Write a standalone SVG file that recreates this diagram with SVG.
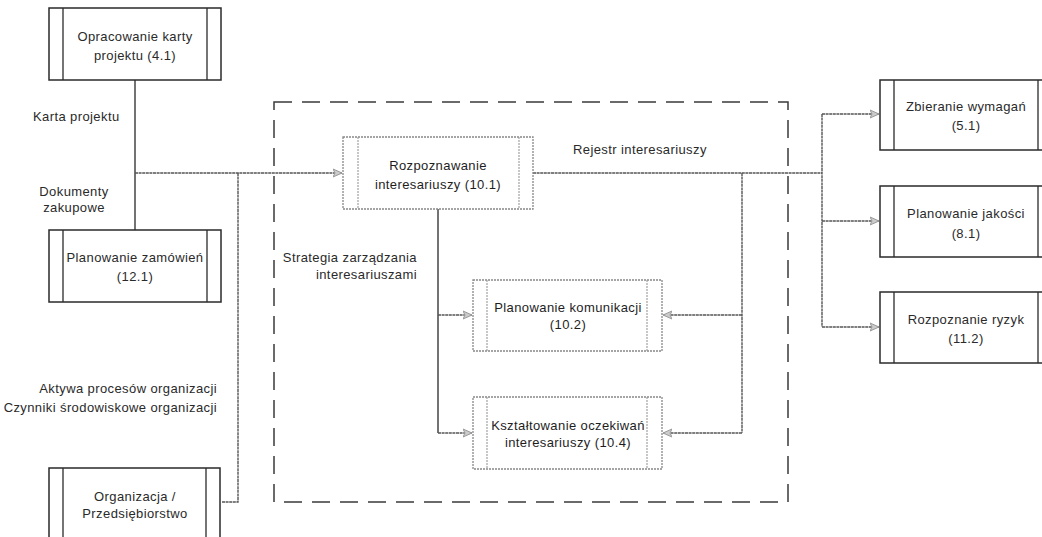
<svg xmlns="http://www.w3.org/2000/svg" width="1042" height="537" viewBox="0 0 1042 537">
<defs>
<style>
text{font-family:"Liberation Sans",Arial,sans-serif;font-size:13px;fill:#2a2a2a;letter-spacing:0.4px}
.c{text-anchor:middle}
.e{text-anchor:end}
.b{fill:#1e1e1e}
.solid{fill:#fff;stroke:#2a2a2a;stroke-width:1.5}
.inner{stroke:#2a2a2a;stroke-width:1.3}
.dot{fill:#fff;stroke:#888;stroke-width:1.3;stroke-dasharray:2 1}
.dinner{stroke:#999;stroke-width:1.1;stroke-dasharray:2 1}
.con{fill:none;stroke:#555;stroke-width:1.4;stroke-dasharray:3 0.6}
.conS{fill:none;stroke:#444;stroke-width:1.5}
.frame{fill:none;stroke:#3a3a3a;stroke-width:1.5;stroke-dasharray:18 10}
</style>
<marker id="arr" viewBox="0 0 10 10" refX="9" refY="5" markerWidth="10" markerHeight="10" markerUnits="userSpaceOnUse" orient="auto">
<path d="M0,1 L9,5 L0,9 L2,5 Z" fill="#ccc" stroke="#999" stroke-width="1"/>
</marker>
</defs>
<rect width="1042" height="537" fill="#fff"/>

<g id="frame">
<rect class="frame" x="274" y="102" width="514" height="400"/>
</g>

<g id="connectors">
<line class="conS" x1="135" y1="80" x2="135" y2="230"/>
<line class="con" x1="135" y1="173" x2="342" y2="173" marker-end="url(#arr)"/>
<polyline class="con" points="222,502 238,502 238,173"/>
<line class="con" x1="533" y1="173" x2="822" y2="173"/>
<polyline class="con" points="822,114 822,327"/>
<line class="con" x1="822" y1="114" x2="879" y2="114" marker-end="url(#arr)"/>
<line class="con" x1="822" y1="221" x2="879" y2="221" marker-end="url(#arr)"/>
<line class="con" x1="822" y1="327" x2="879" y2="327" marker-end="url(#arr)"/>
<polyline class="conS" points="438,209 438,433"/>
<line class="con" x1="438" y1="315" x2="472" y2="315" marker-end="url(#arr)"/>
<line class="con" x1="438" y1="433" x2="472" y2="433" marker-end="url(#arr)"/>
<polyline class="con" points="742,173 742,433"/>
<line class="con" x1="742" y1="315" x2="663" y2="315" marker-end="url(#arr)"/>
<line class="con" x1="742" y1="433" x2="663" y2="433" marker-end="url(#arr)"/>
</g>

<g id="labels">
<text x="33" y="121">Karta projektu</text>
<text class="c" x="74" y="196">Dokumenty</text>
<text class="c" x="74" y="212">zakupowe</text>
<text class="e" x="217" y="393">Aktywa procesów organizacji</text>
<text class="e" x="217" y="412">Czynniki środowiskowe organizacji</text>
<text x="573" y="154">Rejestr interesariuszy</text>
<text class="e" x="417" y="262">Strategia zarządzania</text>
<text class="e" x="417" y="279">interesariuszami</text>
</g>

<g id="node-opracowanie">
<rect class="solid" x="49" y="8" width="172" height="72"/>
<line class="inner" x1="63" y1="8" x2="63" y2="80"/>
<line class="inner" x1="207" y1="8" x2="207" y2="80"/>
<text class="c" x="135" y="41">Opracowanie karty</text>
<text class="c" x="135" y="60">projektu (4.1)</text>
</g>

<g id="node-zamowienia">
<rect class="solid" x="49" y="230" width="172" height="72"/>
<line class="inner" x1="63" y1="230" x2="63" y2="302"/>
<line class="inner" x1="207" y1="230" x2="207" y2="302"/>
<text class="c" x="135" y="262">Planowanie zamówień</text>
<text class="c" x="135" y="281">(12.1)</text>
</g>

<g id="node-organizacja">
<rect class="solid" x="49" y="468" width="171" height="80"/>
<line class="inner" x1="63" y1="468" x2="63" y2="548"/>
<line class="inner" x1="206" y1="468" x2="206" y2="548"/>
<text class="c" x="135" y="501">Organizacja /</text>
<text class="c" x="135" y="518">Przedsiębiorstwo</text>
</g>

<g id="node-rozpoznawanie">
<rect class="dot" x="343" y="137" width="190" height="72"/>
<line class="dinner" x1="358" y1="137" x2="358" y2="209"/>
<line class="dinner" x1="519" y1="137" x2="519" y2="209"/>
<text class="c b" x="438" y="170">Rozpoznawanie</text>
<text class="c b" x="438" y="189">interesariuszy (10.1)</text>
</g>

<g id="node-komunikacja">
<rect class="dot" x="473" y="280" width="189" height="71"/>
<line class="dinner" x1="487" y1="280" x2="487" y2="351"/>
<line class="dinner" x1="647" y1="280" x2="647" y2="351"/>
<text class="c b" x="568" y="312">Planowanie komunikacji</text>
<text class="c b" x="568" y="329">(10.2)</text>
</g>

<g id="node-ksztaltowanie">
<rect class="dot" x="473" y="397" width="189" height="72"/>
<line class="dinner" x1="487" y1="397" x2="487" y2="469"/>
<line class="dinner" x1="647" y1="397" x2="647" y2="469"/>
<text class="c b" x="568" y="430">Kształtowanie oczekiwań</text>
<text class="c b" x="568" y="447">interesariuszy (10.4)</text>
</g>

<g id="node-zbieranie">
<rect class="solid" x="880" y="80" width="172" height="70"/>
<line class="inner" x1="894" y1="80" x2="894" y2="150"/>
<line class="inner" x1="1038" y1="80" x2="1038" y2="150"/>
<text class="c" x="966" y="111">Zbieranie wymagań</text>
<text class="c" x="966" y="130">(5.1)</text>
</g>

<g id="node-jakosc">
<rect class="solid" x="880" y="186" width="172" height="71"/>
<line class="inner" x1="894" y1="186" x2="894" y2="257"/>
<line class="inner" x1="1038" y1="186" x2="1038" y2="257"/>
<text class="c" x="966" y="218">Planowanie jakości</text>
<text class="c" x="966" y="238">(8.1)</text>
</g>

<g id="node-ryzyka">
<rect class="solid" x="880" y="292" width="172" height="71"/>
<line class="inner" x1="894" y1="292" x2="894" y2="363"/>
<line class="inner" x1="1038" y1="292" x2="1038" y2="363"/>
<text class="c" x="966" y="324">Rozpoznanie ryzyk</text>
<text class="c" x="966" y="343">(11.2)</text>
</g>
</svg>
